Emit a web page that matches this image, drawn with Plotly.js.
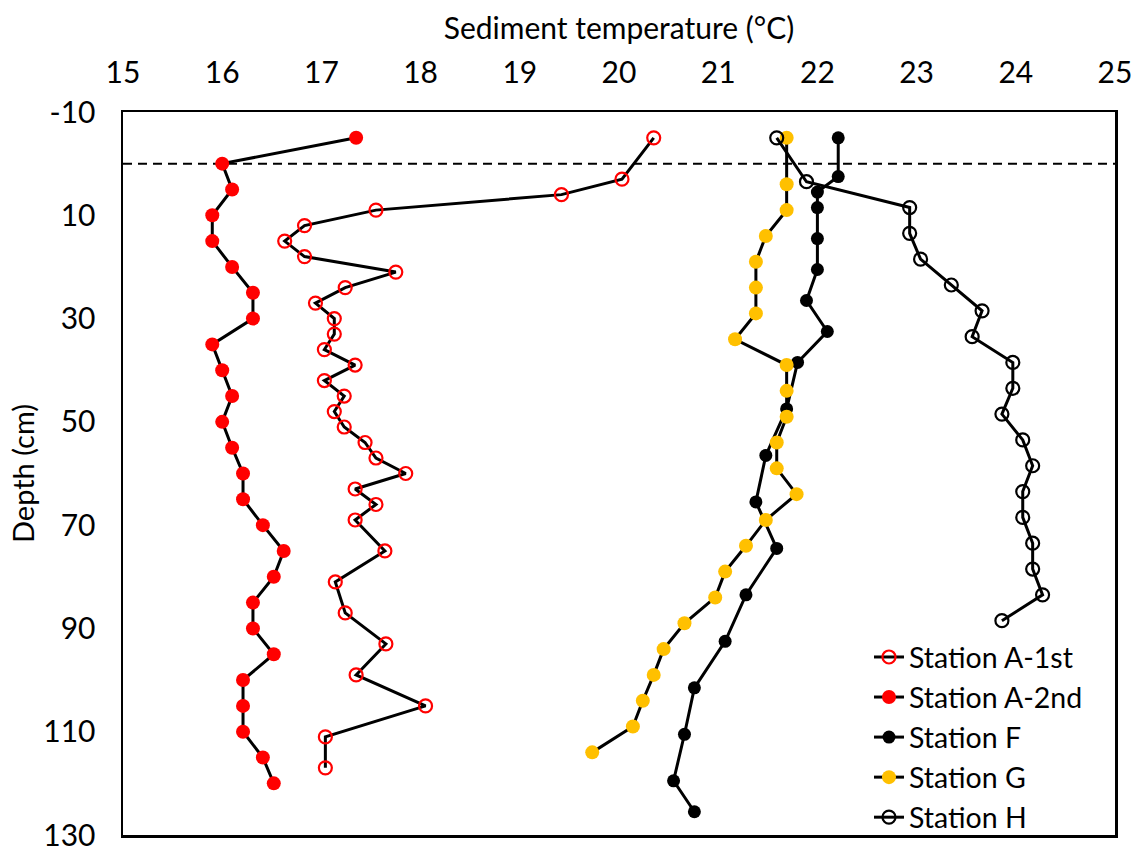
<!DOCTYPE html>
<html>
<head>
<meta charset="utf-8">
<script src="https://cdn.plot.ly/plotly-3.0.1.min.js"></script>
<style>html,body{margin:0;padding:0;background:#fff;}#chart{width:1134px;height:848px;}</style>
</head>
<body>
<div id="chart"></div>
<script>
// Station A-1st (open red circles)
const depthA1 = [-5, 3, 6, 9, 12, 15, 18, 21, 24, 27, 30, 33, 36, 39, 42, 45, 48, 51, 54, 57, 60, 63, 66, 69, 75, 81, 87, 93, 99, 105, 111, 117];
const tempA1  = [20.35, 20.03, 19.42, 17.55, 16.83, 16.63, 16.83, 17.75, 17.24, 16.94, 17.13, 17.13, 17.03, 17.34, 17.03, 17.23, 17.13, 17.23, 17.44, 17.55, 17.85, 17.34, 17.55, 17.34, 17.64, 17.14, 17.24, 17.65, 17.35, 18.05, 17.04, 17.04];

// Station A-2nd (filled red)
const depthA2 = [-5, 0, 5, 10, 15, 20, 25, 30, 35, 40, 45, 50, 55, 60, 65, 70, 75, 80, 85, 90, 95, 100, 105, 110, 115, 120];
const tempA2  = [17.35, 16.0, 16.1, 15.9, 15.9, 16.1, 16.31, 16.31, 15.9, 16.0, 16.1, 16.0, 16.1, 16.21, 16.21, 16.41, 16.62, 16.52, 16.31, 16.31, 16.52, 16.21, 16.21, 16.21, 16.41, 16.52];

// Station F (filled black)
const depthF = [-5, 2.5, 5.5, 8.5, 14.5, 20.5, 26.5, 32.5, 38.5, 47.5, 56.5, 65.5, 74.5, 83.5, 92.5, 101.5, 110.5, 119.5, 125.5];
const tempF  = [22.21, 22.21, 22.0, 22.0, 22.0, 22.0, 21.89, 22.1, 21.8, 21.69, 21.48, 21.38, 21.59, 21.28, 21.07, 20.76, 20.66, 20.55, 20.76];

// Station G (filled gold)
const depthG = [-5, 4, 9, 14, 19, 24, 29, 34, 39, 44, 49, 54, 59, 64, 69, 74, 79, 84, 89, 94, 99, 104, 109, 114];
const tempG  = [21.69, 21.69, 21.69, 21.48, 21.38, 21.38, 21.38, 21.17, 21.69, 21.69, 21.69, 21.59, 21.59, 21.79, 21.48, 21.28, 21.07, 20.97, 20.66, 20.45, 20.35, 20.24, 20.14, 19.73];

// Station H (open black circles)
const depthH = [-5, 3.5, 8.5, 13.5, 18.5, 23.5, 28.5, 33.5, 38.5, 43.5, 48.5, 53.5, 58.5, 63.5, 68.5, 73.5, 78.5, 83.5, 88.5];
const tempH  = [21.59, 21.89, 22.93, 22.93, 23.04, 23.35, 23.66, 23.56, 23.97, 23.97, 23.86, 24.07, 24.17, 24.07, 24.07, 24.17, 24.17, 24.27, 23.86];

const yTicks = [-10, 10, 30, 50, 70, 90, 110, 130];
const xTicks = [15, 16, 17, 18, 19, 20, 21, 22, 23, 24, 25];
const surfaceDepth = 0;

const FONT = 'Lato, "Open Sans", sans-serif';
const lineStyle = {color: '#000000', width: 3};

function series(name, x, y, marker) {
  return {
    type: 'scatter', mode: 'lines+markers', name: name,
    x: x, y: y, line: lineStyle, marker: marker,
    cliponaxis: false
  };
}

const traces = [
  series('Station A-1st', tempA1, depthA1, {symbol: 'circle-open', size: 13, color: '#FF0000', line: {width: 2.2, color: '#FF0000'}}),
  series('Station A-2nd', tempA2, depthA2, {symbol: 'circle', size: 14, color: '#FF0000'}),
  series('Station F', tempF, depthF, {symbol: 'circle', size: 13, color: '#000000'}),
  series('Station G', tempG, depthG, {symbol: 'circle', size: 14, color: '#FFC000'}),
  series('Station H', tempH, depthH, {symbol: 'circle-open', size: 13, color: '#000000', line: {width: 2.2, color: '#000000'}})
];

const layout = {
  width: 1134, height: 848,
  margin: {l: 123, r: 19, t: 112, b: 13, pad: 0, autoexpand: false},
  paper_bgcolor: '#ffffff', plot_bgcolor: '#ffffff',
  font: {family: FONT, color: '#000000', size: 30},
  showlegend: true,
  legend: {
    x: 0.752, xanchor: 'left',
    y: -0.011, yanchor: 'bottom',
    bgcolor: 'rgba(255,255,255,0)', borderwidth: 0,
    font: {family: FONT, size: 28.5, color: '#000000'},
    traceorder: 'normal', itemwidth: 30
  },
  xaxis: {
    side: 'top', range: [15, 25], tickvals: xTicks, ticktext: xTicks.map(String),
    showgrid: false, zeroline: false, showline: true, mirror: true,
    linecolor: '#000000', linewidth: 2.5, ticks: '',
    ticklabelstandoff: 15, ticklabeloverflow: 'allow',
    tickfont: {family: FONT, size: 30},
    title: {text: 'Sediment temperature (°C)', font: {family: FONT, size: 30}, standoff: 4}
  },
  yaxis: {
    range: [130, -10], tickvals: yTicks, ticktext: yTicks.map(String),
    showgrid: false, zeroline: false, showline: true, mirror: true,
    linecolor: '#000000', linewidth: 2.5, ticks: '',
    ticklabelstandoff: 19, ticklabeloverflow: 'allow',
    tickfont: {family: FONT, size: 30},
    title: {text: 'Depth (cm)', font: {family: FONT, size: 29}, standoff: 0}
  },
  shapes: [{
    type: 'line', xref: 'paper', x0: 0, x1: 1, yref: 'y', y0: surfaceDepth, y1: surfaceDepth,
    line: {color: '#000000', width: 2, dash: '9px,6px'}, layer: 'below'
  }]
};

Plotly.newPlot('chart', traces, layout, {displayModeBar: false, staticPlot: true});
</script>
</body>
</html>
